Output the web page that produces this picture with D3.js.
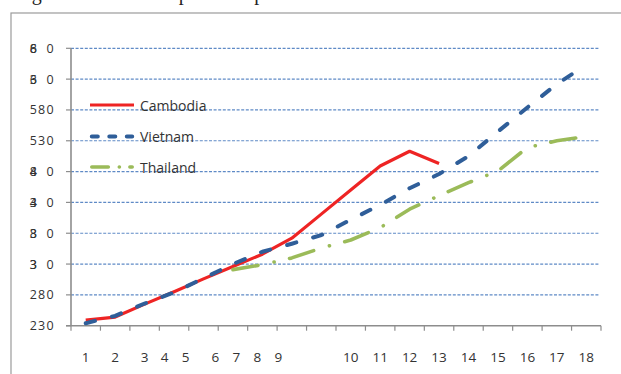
<!DOCTYPE html>
<html><head><meta charset="utf-8">
<script src="https://cdn.jsdelivr.net/npm/d3@7"></script>
<style>
html,body{margin:0;padding:0;background:#fff;}
svg{display:block;}
</style></head>
<body>
<svg id="chart" width="621" height="374"></svg>
<script>
// ---- data ----
const categories = ["1","2","3","4","5","6","7","8","9","10","11","12","13","14","15","16","17","18"];
const cambodia = [239,244,265,285,306,326,346,372,411,450,489,513,493];
const vietnam  = [234,246,266,284,307,330,350,363,377,402,426,453,476,505,545,584,622,653];
const thailand = [null,null,null,null,null,321,329,340,356,369,389,419,441,462,481,519,530,537];
const seriesNames = ["Cambodia","Vietnam","Thailand"];
const yTicks = [230,280,330,380,430,480,530,580,630,680];
// labels whose middle digit is printed over the first one in the source
const yLabelOverlap = [false,false,true,true,true,true,false,false,true,true];
const titleText = "Figure 2: Real GDP per adult person";

// ---- layout ----
const svg = d3.select("#chart");
const L = 71, R = 601, T = 48.3, B = 325.7;
const x = d3.scaleBand().domain(categories).range([L, R]);
const xc = c => x(c) + x.bandwidth() / 2;
const y = d3.scaleLinear().domain([230, 680]).range([B, T]);
const xLabelNudge = [0,0,0,-9.5,-18,-17.5,-26,-34.5,-43,0,0,0,0,0,0,0,0,0];

// cut-off title and frame
svg.append("text").attr("x", 15).attr("y", 0.3)
  .attr("font-family", "'Liberation Serif', serif").attr("font-size", 20)
  .attr("fill", "#222").text(titleText);
svg.append("rect").attr("x", 11).attr("y", 13).attr("width", 700).attr("height", 500)
  .attr("fill", "none").attr("stroke", "#9b9b9b").attr("stroke-width", 1.2);

// gridlines
svg.append("g").selectAll("line").data(yTicks.filter(v => v !== 230)).join("line")
  .attr("x1", L).attr("x2", R - 2)
  .attr("y1", d => y(d)).attr("y2", d => y(d))
  .attr("stroke", "#5f8ac6").attr("stroke-width", 1.2)
  .attr("stroke-dasharray", "3,1.6");

// axes
const axisColor = "#8d8d8d";
svg.append("line").attr("x1", L).attr("x2", L).attr("y1", T).attr("y2", B)
  .attr("stroke", axisColor).attr("stroke-width", 1.6);
svg.append("line").attr("x1", L - 5).attr("x2", R).attr("y1", B).attr("y2", B)
  .attr("stroke", axisColor).attr("stroke-width", 1.6);
svg.append("g").selectAll("line").data(yTicks).join("line")
  .attr("x1", L - 5).attr("x2", L).attr("y1", d => y(d)).attr("y2", d => y(d))
  .attr("stroke", axisColor).attr("stroke-width", 1.2);
const bounds = categories.map(c => x(c)).concat([x(categories[categories.length - 1]) + x.bandwidth()]);
svg.append("g").selectAll("line").data(bounds).join("line")
  .attr("x1", d => d).attr("x2", d => d).attr("y1", B).attr("y2", B + 5)
  .attr("stroke", axisColor).attr("stroke-width", 1.2);

// y labels
const fontUI = "'Open Sans', 'Noto Sans', sans-serif";
const yl = svg.append("g").attr("font-family", fontUI).attr("font-size", 12.5)
  .attr("fill", "#333").attr("letter-spacing", 1.3);
yTicks.forEach((v, i) => {
  const s = String(v);
  const t = yl.append("text").attr("x", 55).attr("y", y(v)).attr("dy", "0.36em")
    .attr("text-anchor", "end");
  if (yLabelOverlap[i]) {
    t.append("tspan").text(s[0]);
    t.append("tspan").attr("fill-opacity", 0).text(s[1]);
    t.append("tspan").text(s[2]);
    const bb = t.node().getBBox();
    yl.append("text").attr("x", bb.x).attr("y", y(v)).attr("dy", "0.36em")
      .attr("text-anchor", "start").text(s[1]);
  } else {
    t.text(s);
  }
});

// x labels
svg.append("g").attr("font-family", fontUI).attr("font-size", 13.5).attr("fill", "#333")
  .selectAll("text").data(categories).join("text")
  .attr("x", (c, i) => xc(c) + xLabelNudge[i]).attr("y", 361.5)
  .attr("text-anchor", "middle").text(c => c);

// series
const line = d3.line().defined(d => d.v !== null).x(d => xc(d.c)).y(d => y(d.v));
const toPts = arr => arr.map((v, i) => ({ c: categories[i], v }));
const styles = [
  { data: cambodia, color: "#ee2424", w: 3.2, cap: "butt" },
  { data: vietnam,  color: "#2f5e99", w: 4,   cap: "round" },
  { data: thailand, color: "#9bbb59", w: 3.6, cap: "round" }
];
// length along a path to the point whose x is xt
function lengthAtX(node, xt) {
  let lo = 0, hi = node.getTotalLength();
  for (let k = 0; k < 40; k++) {
    const mid = (lo + hi) / 2;
    if (node.getPointAtLength(mid).x < xt) lo = mid; else hi = mid;
  }
  return lo;
}
styles.forEach((s, i) => {
  const p = svg.append("path").datum(toPts(s.data)).attr("d", line)
    .attr("fill", "none").attr("stroke", s.color).attr("stroke-width", s.w)
    .attr("stroke-linejoin", "round").attr("stroke-linecap", s.cap);
  const node = p.node();
  if (i === 1) {
    // 20 dash periods between the first dash and the dash near category 17
    const P = (lengthAtX(node, 563.7) ) / 20;
    p.attr("stroke-dasharray", `${(P * 0.352).toFixed(2)},${(P * 0.648).toFixed(2)}`);
  } else if (i === 2) {
    const P = (lengthAtX(node, 550.7) - 0) / 6;
    const d = P * 0.44, g1 = P * 0.285, g2 = P - d - g1;
    p.attr("stroke-dasharray", `${d.toFixed(2)},${g1.toFixed(2)},0.1,${(g2 - 0.1).toFixed(2)}`);
  }
});

// legend
const legDash = [null, "6,11.5", "16.5,11,0.1,10.5"];
const legY = [105, 136.5, 167];
seriesNames.forEach((n, i) => {
  const st = styles[i];
  const x0 = st.cap === "round" ? 91.8 : 90;
  const x1 = st.cap === "round" ? 132.2 : 134;
  svg.append("line").attr("x1", x0).attr("x2", x1).attr("y1", legY[i]).attr("y2", legY[i])
    .attr("stroke", st.color).attr("stroke-width", st.w)
    .attr("stroke-linecap", st.cap).attr("stroke-dasharray", legDash[i]);
  svg.append("text").attr("x", 140).attr("y", legY[i] + 5.5)
    .attr("font-family", fontUI).attr("font-size", 14).attr("fill", "#333").text(n);
});
</script>
</body></html>
